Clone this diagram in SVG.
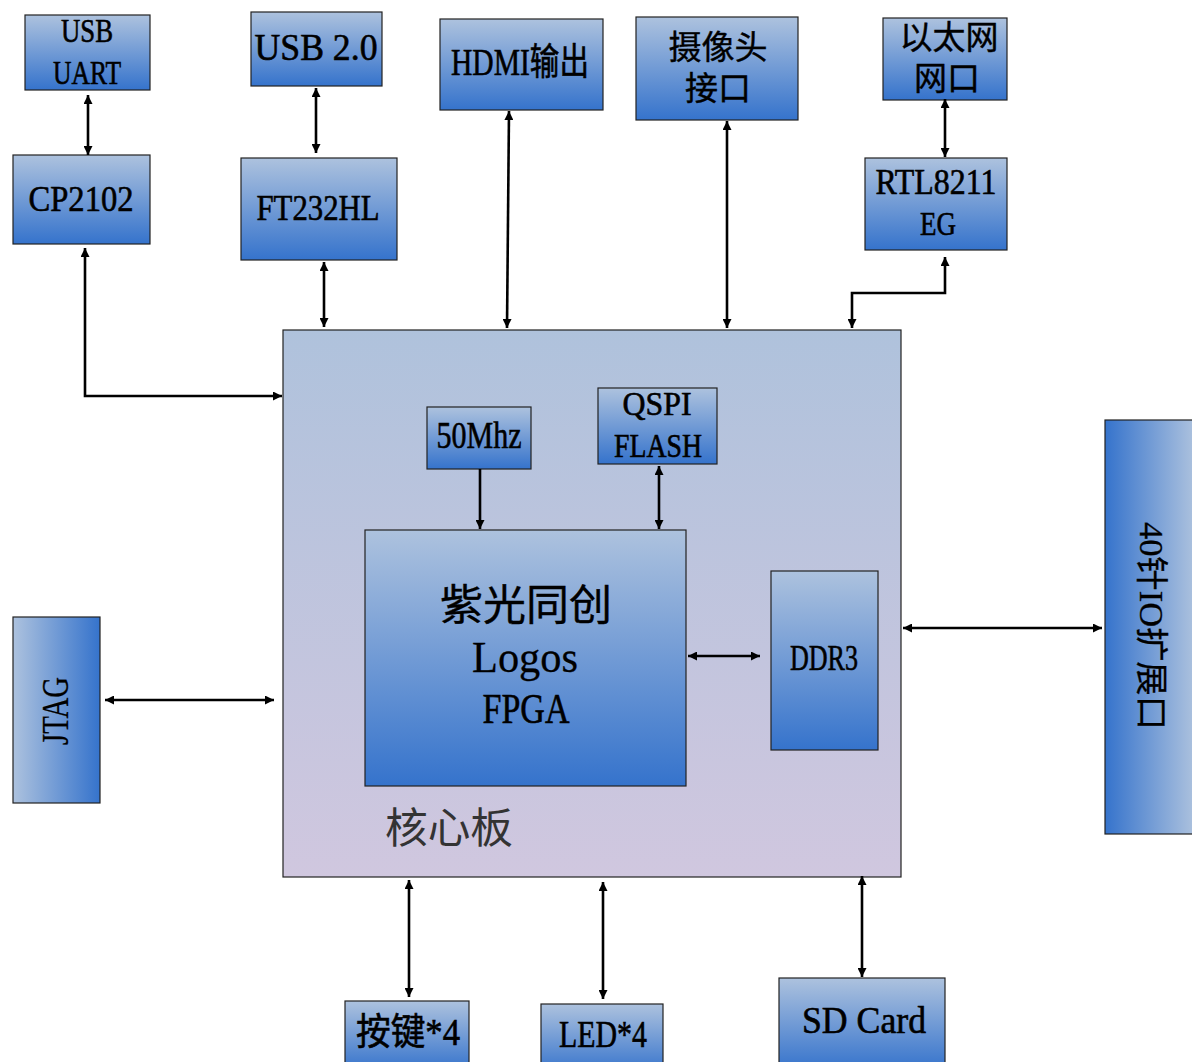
<svg xmlns="http://www.w3.org/2000/svg" width="1192" height="1062" viewBox="0 0 1192 1062">
<defs>
<linearGradient id="gv" x1="0" y1="0" x2="0" y2="1">
<stop offset="0" stop-color="#adc2de"/>
<stop offset="1" stop-color="#3573cc"/>
</linearGradient>
<linearGradient id="gl" x1="0" y1="0" x2="1" y2="0">
<stop offset="0" stop-color="#adc2de"/>
<stop offset="1" stop-color="#3573cc"/>
</linearGradient>
<linearGradient id="gr" x1="1" y1="0" x2="0" y2="0">
<stop offset="0" stop-color="#adc2de"/>
<stop offset="1" stop-color="#3573cc"/>
</linearGradient>
<linearGradient id="gcore" x1="0" y1="0" x2="0" y2="1">
<stop offset="0" stop-color="#afc2dc"/>
<stop offset="1" stop-color="#d0c7df"/>
</linearGradient>
<marker id="ah" viewBox="0 0 10 10" refX="10" refY="5" markerWidth="11" markerHeight="9" markerUnits="userSpaceOnUse" orient="auto-start-reverse">
<path d="M0,0 L10,5 L0,10 z" fill="#000"/>
</marker>
<style>
.n{stroke:#222;stroke-width:1.2}
.t{font-family:"Liberation Serif","Noto Sans CJK SC",serif;font-size:36px;fill:#000;stroke:#000;stroke-width:0.6;text-anchor:middle}
.c{font-family:"Liberation Serif","Noto Sans CJK SC",sans-serif;font-size:33px;fill:#000;stroke:#000;stroke-width:0.4;text-anchor:middle}
.w{fill:none;stroke:#000;stroke-width:2.6}
</style>
</defs>
<g id="core">
<rect x="283" y="330" width="618" height="547" fill="url(#gcore)" class="n"/>
<text x="449" y="843" textLength="128" lengthAdjust="spacingAndGlyphs" style="font-family:'Noto Sans CJK SC',sans-serif;font-size:42px;fill:#333;text-anchor:middle">核心板</text>
</g>
<g id="usbuart">
<rect x="25" y="15" width="125" height="75" fill="url(#gv)" class="n"/>
<text class="t" x="87" y="42" style="font-size:33px" textLength="52" lengthAdjust="spacingAndGlyphs">USB</text>
<text class="t" x="87" y="84" style="font-size:33px" textLength="68" lengthAdjust="spacingAndGlyphs">UART</text>
</g>
<g id="usb20">
<rect x="251" y="12" width="131" height="74" fill="url(#gv)" class="n"/>
<text class="t" x="316" y="60" style="font-size:37px" textLength="123" lengthAdjust="spacingAndGlyphs">USB 2.0</text>
</g>
<g id="cp2102">
<rect x="13" y="155" width="137" height="89" fill="url(#gv)" class="n"/>
<text class="t" x="81" y="211" textLength="105" lengthAdjust="spacingAndGlyphs">CP2102</text>
</g>
<g id="ft232">
<rect x="241" y="158" width="156" height="102" fill="url(#gv)" class="n"/>
<text class="t" x="318" y="220" textLength="123" lengthAdjust="spacingAndGlyphs">FT232HL</text>
</g>
<g id="hdmi">
<rect x="440" y="19" width="163" height="91" fill="url(#gv)" class="n"/>
<text class="t" x="520" y="75" style="font-size:37px" textLength="138" lengthAdjust="spacingAndGlyphs">HDMI输出</text>
</g>
<g id="camera">
<rect x="636" y="17" width="162" height="103" fill="url(#gv)" class="n"/>
<text class="c" x="718" y="59">摄像头</text>
<text class="c" x="718" y="100">接口</text>
</g>
<g id="eth">
<rect x="883" y="18" width="124" height="82" fill="url(#gv)" class="n"/>
<text class="c" x="949" y="49">以太网</text>
<text class="c" x="947" y="90">网口</text>
</g>
<g id="rtl">
<rect x="865" y="158" width="142" height="92" fill="url(#gv)" class="n"/>
<text class="t" x="936" y="194" textLength="121" lengthAdjust="spacingAndGlyphs">RTL8211</text>
<text class="t" x="938" y="235" style="font-size:34px" textLength="36" lengthAdjust="spacingAndGlyphs">EG</text>
</g>
<g id="osc">
<rect x="427" y="407" width="104" height="62" fill="url(#gv)" class="n"/>
<text class="t" x="479" y="448" style="font-size:37px" textLength="85" lengthAdjust="spacingAndGlyphs">50Mhz</text>
</g>
<g id="qspi">
<rect x="598" y="388" width="119" height="76" fill="url(#gv)" class="n"/>
<text class="t" x="657" y="415" style="font-size:33px" textLength="69" lengthAdjust="spacingAndGlyphs">QSPI</text>
<text class="t" x="658" y="457" style="font-size:33px" textLength="88" lengthAdjust="spacingAndGlyphs">FLASH</text>
</g>
<g id="fpga">
<rect x="365" y="530" width="321" height="256" fill="url(#gv)" class="n"/>
<text class="c" x="526" y="620" style="font-size:42px" textLength="172" lengthAdjust="spacingAndGlyphs">紫光同创</text>
<text class="t" x="525" y="672" style="font-size:45px;stroke-width:0.3" textLength="106" lengthAdjust="spacingAndGlyphs">Logos</text>
<text class="t" x="526" y="723" style="font-size:43px" textLength="87" lengthAdjust="spacingAndGlyphs">FPGA</text>
</g>
<g id="ddr3">
<rect x="771" y="571" width="107" height="179" fill="url(#gv)" class="n"/>
<text class="t" x="824" y="670" style="font-size:35px" textLength="68" lengthAdjust="spacingAndGlyphs">DDR3</text>
</g>
<g id="jtag">
<rect x="13" y="617" width="87" height="186" fill="url(#gl)" class="n"/>
<text class="t" transform="translate(68,711) rotate(-90)" style="font-size:38px;stroke-width:0.3" textLength="68" lengthAdjust="spacingAndGlyphs">JTAG</text>
</g>
<g id="io40">
<rect x="1105" y="420" width="90" height="414" fill="url(#gr)" class="n"/>
<text class="t" transform="translate(1140,626) rotate(90)" style="font-size:33px;stroke-width:0.3" textLength="208" lengthAdjust="spacingAndGlyphs">40针IO扩展口</text>
</g>
<g id="keys">
<rect x="345" y="1001" width="124" height="70" fill="url(#gv)" class="n"/>
<text class="t" x="408" y="1045" style="font-size:37px" textLength="104" lengthAdjust="spacingAndGlyphs">按键*4</text>
</g>
<g id="led">
<rect x="541" y="1004" width="122" height="70" fill="url(#gv)" class="n"/>
<text class="t" x="603" y="1047" style="font-size:38px" textLength="88" lengthAdjust="spacingAndGlyphs">LED*4</text>
</g>
<g id="sd">
<rect x="779" y="978" width="166" height="92" fill="url(#gv)" class="n"/>
<text class="t" x="864" y="1033" style="font-size:37px" textLength="124" lengthAdjust="spacingAndGlyphs">SD Card</text>
</g>
<g id="connectors">
<line class="w" x1="88" y1="95" x2="88" y2="155" marker-start="url(#ah)" marker-end="url(#ah)"/>
<line class="w" x1="316" y1="88" x2="316" y2="153" marker-start="url(#ah)" marker-end="url(#ah)"/>
<path class="w" d="M85,248 V396 H282" marker-start="url(#ah)" marker-end="url(#ah)"/>
<line class="w" x1="324" y1="262" x2="324" y2="327" marker-start="url(#ah)" marker-end="url(#ah)"/>
<line class="w" x1="509" y1="111" x2="507" y2="328" marker-start="url(#ah)" marker-end="url(#ah)"/>
<line class="w" x1="727" y1="121" x2="727" y2="328" marker-start="url(#ah)" marker-end="url(#ah)"/>
<line class="w" x1="945" y1="99" x2="945" y2="157" marker-start="url(#ah)" marker-end="url(#ah)"/>
<path class="w" d="M945,257 V293 H852 V328" marker-start="url(#ah)" marker-end="url(#ah)"/>
<line class="w" x1="480" y1="469" x2="480" y2="529" marker-end="url(#ah)"/>
<line class="w" x1="659" y1="466" x2="659" y2="529" marker-start="url(#ah)" marker-end="url(#ah)"/>
<line class="w" x1="688" y1="656" x2="760" y2="656" marker-start="url(#ah)" marker-end="url(#ah)"/>
<line class="w" x1="105" y1="700" x2="274" y2="700" marker-start="url(#ah)" marker-end="url(#ah)"/>
<line class="w" x1="903" y1="628" x2="1102" y2="628" marker-start="url(#ah)" marker-end="url(#ah)"/>
<line class="w" x1="409" y1="880" x2="409" y2="997" marker-start="url(#ah)" marker-end="url(#ah)"/>
<line class="w" x1="603" y1="882" x2="603" y2="999" marker-start="url(#ah)" marker-end="url(#ah)"/>
<line class="w" x1="862" y1="876" x2="862" y2="977" marker-start="url(#ah)" marker-end="url(#ah)"/>
</g>
</svg>
